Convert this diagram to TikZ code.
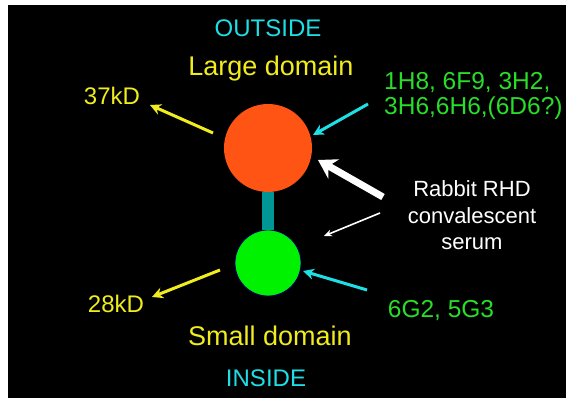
\documentclass[tikz,border=0pt]{standalone}
\usepackage{fontspec}
\setmainfont{Liberation Sans}
\usetikzlibrary{arrows.meta}
\definecolor{cyantxt}{RGB}{30,222,230}
\definecolor{yeltxt}{RGB}{240,236,30}
\definecolor{grntxt}{RGB}{40,222,40}
\definecolor{largefill}{RGB}{255,84,20}
\definecolor{smallfill}{RGB}{0,242,0}
\definecolor{stalkcol}{RGB}{0,150,150}
\begin{document}
\begin{tikzpicture}[x=1pt,y=-1pt,>=Stealth]
\tikzset{
    lbl/.style={inner sep=0pt,anchor=base},
    yarrow/.style={yeltxt,line width=3pt,-{Stealth[length=11pt,width=11pt]}},
    carrow/.style={cyantxt,line width=3pt,-{Stealth[length=11pt,width=11pt]}},
    wthick/.style={white,line width=7pt,-{Stealth[length=18pt,width=22pt]}},
    wthin/.style={white,line width=1.6pt,-{Stealth[length=8pt,width=7pt]}},
}
%Background with white margin at left and top
    \fill[white] (0,0) rectangle (566,398);
    \fill[black] (8,5) rectangle (566,398);

%Stalk and the two domains
    \node[circle,fill=largefill,minimum size=88pt,inner sep=0pt] (large) at (268,148) {};
    \node[circle,fill=smallfill,draw=blue!45!black,line width=0.8pt,minimum size=66pt,inner sep=0pt] (small) at (268,263) {};
    \draw[stalkcol,line width=12pt] (large.south) -- (small.north);

%Labels (multi-line nodes sit on the baseline of their last line)
    \node[lbl,cyantxt,font=\fontsize{24}{28}\selectfont] (outside) at (268,37) {OUTSIDE};
    \node[lbl,yeltxt,font=\fontsize{27}{30}\selectfont] (largelbl) at (271,76) {Large domain};
    \node[lbl,yeltxt,font=\fontsize{24}{28}\selectfont] (kd37) at (112,105) {37kD};
    \node[lbl,anchor=base west,align=left,grntxt,font=\fontsize{24.5}{25.5}\selectfont] (mabs1) at (384,115) {1H8, 6F9, 3H2,\\3H6,6H6,(6D6?)};
    \node[lbl,align=center,white,font=\fontsize{22}{26.5}\selectfont] (serum) at (472,250) {Rabbit RHD\\convalescent\\serum};
    \node[lbl,yeltxt,font=\fontsize{24}{28}\selectfont] (kd28) at (116,313) {28kD};
    \node[lbl,grntxt,font=\fontsize{24.5}{28}\selectfont] (mabs2) at (441,318) {6G2, 5G3};
    \node[lbl,yeltxt,font=\fontsize{27}{30}\selectfont] (smalllbl) at (270,346) {Small domain};
    \node[lbl,cyantxt,font=\fontsize{24}{28}\selectfont] (inside) at (266,387) {INSIDE};

%Arrow ends
    \coordinate (t37) at (213,133);  \coordinate (h37) at (150,105);
    \coordinate (tc1) at (368,104);  \coordinate (hc1) at (313,135);
    \coordinate (tw1) at (383,197);  \coordinate (hw1) at (318,160);
    \coordinate (tw2) at (380,213);  \coordinate (hw2) at (324,236);
    \coordinate (tc2) at (367,290);  \coordinate (hc2) at (303,271);
    \coordinate (t28) at (220,270);  \coordinate (h28) at (152,297);

    \foreach \from/\to/\kind in {t37/h37/yarrow,tc1/hc1/carrow,tw1/hw1/wthick,
                                 tw2/hw2/wthin,tc2/hc2/carrow,t28/h28/yarrow}
        {
        \draw[\kind] (\from) -- (\to);
    }
\end{tikzpicture}
\end{document}
